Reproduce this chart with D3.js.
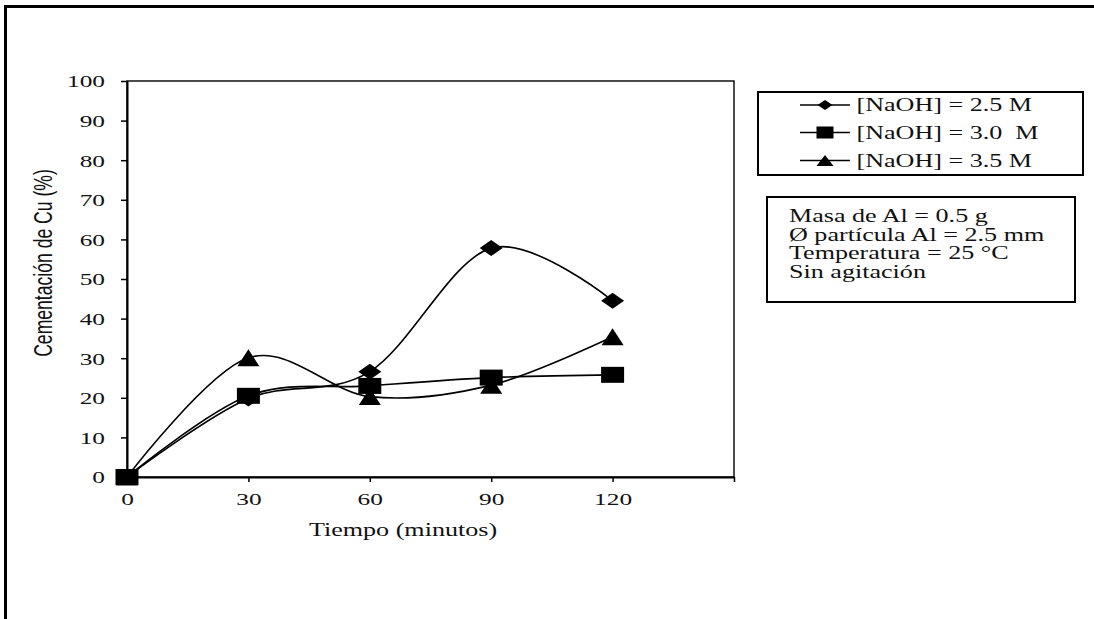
<!DOCTYPE html>
<html>
<head>
<meta charset="utf-8">
<script src="https://cdn.jsdelivr.net/npm/d3@7"></script>
<style>
  html, body { margin: 0; padding: 0; background: #fff; }
  svg { display: block; }
  text { white-space: pre; }
</style>
</head>
<body>
<svg id="chart" width="1094" height="619"></svg>
<script>
// Cementation of Cu vs time for three NaOH concentrations
const times = [0, 30, 60, 90, 120];
const naoh25 = [0, 19.8, 26.6, 57.8, 44.5];
const naoh30 = [0, 20.5, 23.0, 25.1, 25.8];
const naoh35 = [0, 30.1, 20.3, 23.2, 35.4];
const seriesNames = ["[NaOH] = 2.5 M", "[NaOH] = 3.0  M", "[NaOH] = 3.5 M"];
const seriesShapes = ["diamond", "square", "triangle"];
const xTicks = [0, 30, 60, 90, 120, 150];
const xTickLabels = ["0", "30", "60", "90", "120", ""];
const yTicks = [0, 10, 20, 30, 40, 50, 60, 70, 80, 90, 100];
const infoLines = ["Masa de Al = 0.5 g", "Ø partícula Al = 2.5 mm", "Temperatura = 25 °C", "Sin agitación"];
const xTitle = "Tiempo (minutos)";
const yTitle = "Cementación de Cu (%)";

const SX = 1.45;               // horizontal stretch of the whole figure
const serif = "'Liberation Serif', 'Times New Roman', serif";
const sans = "'Liberation Sans', Arial, sans-serif";

const svg = d3.select("#chart");

// outer frame (top and left edges)
svg.append("line").attr("x1", 4).attr("x2", 1094).attr("y1", 6.5).attr("y2", 6.5)
  .attr("stroke", "#000").attr("stroke-width", 3);
svg.append("line").attr("x1", 5.5).attr("x2", 5.5).attr("y1", 5).attr("y2", 619)
  .attr("stroke", "#000").attr("stroke-width", 3);

const x = d3.scaleLinear().domain([0, 150]).range([127, 734]);
const y = d3.scaleLinear().domain([0, 100]).range([477, 81]);

// plot-area border
svg.append("rect")
  .attr("x", x(0)).attr("y", y(100))
  .attr("width", x(150) - x(0)).attr("height", y(0) - y(100))
  .attr("fill", "none").attr("stroke", "#000").attr("stroke-width", 1.4);

// y axis
const yAxis = svg.append("g")
  .attr("transform", `translate(${x(0)},0)`)
  .call(d3.axisLeft(y).tickValues(yTicks).tickSize(6).tickSizeOuter(0));
yAxis.select(".domain").attr("stroke-width", 2);
yAxis.selectAll(".tick line").attr("stroke-width", 1.5);
yAxis.selectAll(".tick text")
  .attr("x", 0).attr("dy", "0.34em")
  .attr("transform", `translate(-22,0) scale(${SX},1)`)
  .attr("font-family", serif).attr("font-size", 17.5).attr("fill", "#111");

// x axis
const xAxis = svg.append("g")
  .attr("transform", `translate(0,${y(0)})`)
  .call(d3.axisBottom(x).tickValues(xTicks).tickSize(5).tickSizeOuter(0)
    .tickFormat((d, i) => xTickLabels[i]));
xAxis.select(".domain").attr("stroke-width", 2);
xAxis.selectAll(".tick line").attr("stroke-width", 1.5);
xAxis.selectAll(".tick text")
  .attr("y", 0).attr("dy", 0)
  .attr("transform", `translate(0,28) scale(${SX},1)`)
  .attr("font-family", serif).attr("font-size", 17.5).attr("fill", "#111");

// axis titles
svg.append("text")
  .attr("transform", `translate(403,536) scale(${SX},1)`)
  .attr("text-anchor", "middle")
  .attr("font-family", serif).attr("font-size", 18).attr("fill", "#111")
  .text(xTitle);
svg.append("text")
  .attr("transform", `translate(52,263) scale(${SX},1) rotate(-90)`)
  .attr("text-anchor", "middle")
  .attr("font-family", sans).attr("font-size", 17.6).attr("fill", "#111")
  .text(yTitle);

// marker shapes, hw/hh = half width / half height in px
function markerPath(shape, hw, hh) {
  if (shape === "diamond") return `M0,${-hh}L${hw},0L0,${hh}L${-hw},0Z`;
  if (shape === "square") return `M${-hw},${-hh}H${hw}V${hh}H${-hw}Z`;
  return `M0,${-hh}L${hw},${hh}L${-hw},${hh}Z`;
}
const plotMarker = {
  diamond: [11.5, 8],
  square: [11.5, 8],
  triangle: [11, 8.5]
};

const seriesValues = [naoh25, naoh30, naoh35];
const line = d3.line()
  .x(d => x(d[0])).y(d => y(d[1]))
  .curve(d3.curveCardinal.tension(0));

const seriesG = svg.append("g");
seriesValues.forEach((vals, i) => {
  const pts = times.map((t, j) => [t, vals[j]]);
  seriesG.append("path")
    .attr("d", line(pts))
    .attr("fill", "none").attr("stroke", "#000").attr("stroke-width", 1.6);
});
// markers: diamonds, triangles, then squares on top
[0, 2, 1].forEach(i => {
  const shape = seriesShapes[i];
  const [hw, hh] = plotMarker[shape];
  seriesG.selectAll(null)
    .data(times.map((t, j) => [t, seriesValues[i][j]]))
    .join("path")
    .attr("transform", d => `translate(${x(d[0])},${y(d[1])})`)
    .attr("d", markerPath(shape, hw, hh))
    .attr("fill", "#000");
});

// legend
const legend = svg.append("g");
legend.append("rect")
  .attr("x", 758).attr("y", 92).attr("width", 325).attr("height", 83)
  .attr("fill", "#fff").attr("stroke", "#000").attr("stroke-width", 2);
const legendMarker = {
  diamond: [7.5, 5],
  square: [8.5, 6],
  triangle: [8.5, 5.5]
};
const legendBaselines = [111, 138.5, 166.5];
seriesNames.forEach((name, i) => {
  const by = legendBaselines[i];
  const cy = by - 6;
  legend.append("line")
    .attr("x1", 800).attr("x2", 850).attr("y1", cy).attr("y2", cy)
    .attr("stroke", "#000").attr("stroke-width", 1.6);
  const [hw, hh] = legendMarker[seriesShapes[i]];
  legend.append("path")
    .attr("transform", `translate(825,${cy})`)
    .attr("d", markerPath(seriesShapes[i], hw, hh))
    .attr("fill", "#000");
  legend.append("text")
    .attr("transform", `translate(856.5,${by}) scale(${SX},1)`)
    .attr("font-family", serif).attr("font-size", 18).attr("fill", "#111")
    .text(name);
});

// experimental conditions box
const info = svg.append("g");
info.append("rect")
  .attr("x", 767).attr("y", 197).attr("width", 308).attr("height", 105)
  .attr("fill", "#fff").attr("stroke", "#000").attr("stroke-width", 2);
infoLines.forEach((s, i) => {
  info.append("text")
    .attr("transform", `translate(789,${222 + i * 18.7}) scale(${SX},1)`)
    .attr("font-family", serif).attr("font-size", 18).attr("fill", "#111")
    .text(s);
});
</script>
</body>
</html>
